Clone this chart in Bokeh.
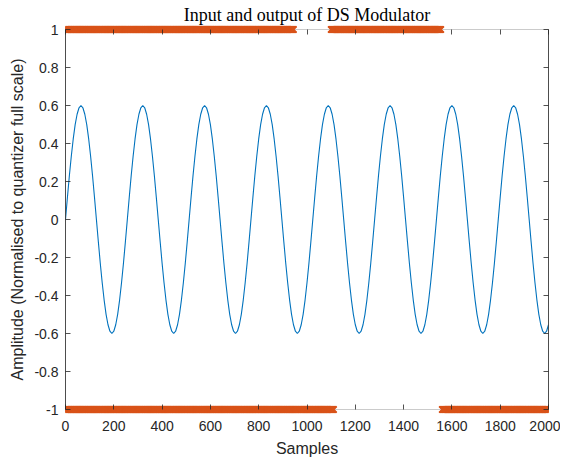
import numpy as np
from bokeh.plotting import figure
from bokeh.models import Range1d, LinearAxis, FixedTicker, BoxAnnotation
from bokeh.embed import file_html
from bokeh.resources import INLINE

in_x_step = 8
in_vals = [
    0, 0.117, 0.230, 0.333, 0.424, 0.499, 0.554, 0.588, 0.6, 0.588, 0.554, 0.499, 0.424, 0.333, 0.230, 0.117,
    0, -0.117, -0.230, -0.333, -0.424, -0.499, -0.554, -0.588, -0.6, -0.588, -0.554, -0.499, -0.424, -0.333, -0.230, -0.117,
    0, 0.117, 0.230, 0.333, 0.424, 0.499, 0.554, 0.588, 0.6, 0.588, 0.554, 0.499, 0.424, 0.333, 0.230, 0.117,
    0, -0.117, -0.230, -0.333, -0.424, -0.499, -0.554, -0.588, -0.6, -0.588, -0.554, -0.499, -0.424, -0.333, -0.230, -0.117,
    0, 0.117, 0.230, 0.333, 0.424, 0.499, 0.554, 0.588, 0.6, 0.588, 0.554, 0.499, 0.424, 0.333, 0.230, 0.117,
    0, -0.117, -0.230, -0.333, -0.424, -0.499, -0.554, -0.588, -0.6, -0.588, -0.554, -0.499, -0.424, -0.333, -0.230, -0.117,
    0, 0.117, 0.230, 0.333, 0.424, 0.499, 0.554, 0.588, 0.6, 0.588, 0.554, 0.499, 0.424, 0.333, 0.230, 0.117,
    0, -0.117, -0.230, -0.333, -0.424, -0.499, -0.554, -0.588, -0.6, -0.588, -0.554, -0.499, -0.424, -0.333, -0.230, -0.117,
    0, 0.117, 0.230, 0.333, 0.424, 0.499, 0.554, 0.588, 0.6, 0.588, 0.554, 0.499, 0.424, 0.333, 0.230, 0.117,
    0, -0.117, -0.230, -0.333, -0.424, -0.499, -0.554, -0.588, -0.6, -0.588, -0.554, -0.499, -0.424, -0.333, -0.230, -0.117,
    0, 0.117, 0.230, 0.333, 0.424, 0.499, 0.554, 0.588, 0.6, 0.588, 0.554, 0.499, 0.424, 0.333, 0.230, 0.117,
    0, -0.117, -0.230, -0.333, -0.424, -0.499, -0.554, -0.588, -0.6, -0.588, -0.554, -0.499, -0.424, -0.333, -0.230, -0.117,
    0, 0.117, 0.230, 0.333, 0.424, 0.499, 0.554, 0.588, 0.6, 0.588, 0.554, 0.499, 0.424, 0.333, 0.230, 0.117,
    0, -0.117, -0.230, -0.333, -0.424, -0.499, -0.554, -0.588, -0.6, -0.588, -0.554, -0.499, -0.424, -0.333, -0.230, -0.117,
    0, 0.117, 0.230, 0.333, 0.424, 0.499, 0.554, 0.588, 0.6, 0.588, 0.554, 0.499, 0.424, 0.333, 0.230, 0.117,
    0, -0.117, -0.230, -0.333, -0.424, -0.499, -0.554, -0.588, -0.6, -0.588, -0.554,
]
in_x = [i * in_x_step for i in range(len(in_vals))]

# Modulator output: runs of samples where +1 / -1 appear
out_hi_runs = [(0, 945), (1100, 1555)]
out_lo_runs = [(0, 1110), (1560, 2000)]
out_levels = [1, -1]

x_ticks = list(range(0, 2001, 200))
y_ticks = [-1, -0.8, -0.6, -0.4, -0.2, 0, 0.2, 0.4, 0.6, 0.8, 1]
y_tick_labels = ["-1", "-0.8", "-0.6", "-0.4", "-0.2", "0", "0.2", "0.4", "0.6", "0.8", "1"]

TXT = "#262626"
FONT = "Liberation Sans"

FRAME_W, BOX_H, PAD = 483, 380, 5
y_pad = 2 * PAD / BOX_H  # data units of the marker padding beyond +-1

p = figure(width=560, height=452, output_backend="svg", toolbar_location=None,
           x_range=Range1d(0, 2000), y_range=Range1d(-1 - y_pad, 1 + y_pad),
           min_border_left=65, min_border_right=12, min_border_top=24, min_border_bottom=38)
p.frame_width = FRAME_W
p.frame_height = BOX_H + 2 * PAD
p.background_fill_color = "white"
p.border_fill_color = "white"
p.outline_line_color = None
p.grid.visible = False

p.title.text = "Input and output of DS Modulator"
p.title.text_font = "Liberation Serif"
p.title.text_font_size = "18px"
p.title.text_font_style = "normal"
p.title.text_color = "black"
p.title.align = "center"
p.title.standoff = 0
p.title.offset = 0

box = BoxAnnotation(left=0, right=2000, bottom=-1, top=1, fill_color=None,
                    line_color=TXT, line_width=0.8, level="underlay")
p.add_layout(box)

xa, ya = p.xaxis[0], p.yaxis[0]
for ax in (xa, ya):
    ax.major_label_text_font = FONT
    ax.major_label_text_font_size = "14px"
    ax.major_label_text_color = TXT
    ax.axis_label_text_font = FONT
    ax.axis_label_text_font_size = "16px"
    ax.axis_label_text_font_style = "normal"
    ax.axis_label_text_color = TXT
    ax.major_tick_line_color = TXT
    ax.major_tick_line_width = 0.8
    ax.minor_tick_line_color = None

xa.ticker = FixedTicker(ticks=x_ticks)
xa.axis_line_color = None
xa.major_tick_in = PAD + 5
xa.major_tick_out = -PAD
xa.major_label_standoff = 6
xa.axis_label = "Samples"
xa.axis_label_standoff = 6

ya.ticker = FixedTicker(ticks=y_ticks)
ya.major_label_overrides = dict(zip(y_ticks, y_tick_labels))
ya.bounds = (-1, 1)
ya.axis_line_color = TXT
ya.axis_line_width = 0.8
ya.major_tick_in = 5
ya.major_tick_out = 0
ya.major_label_standoff = 7
ya.axis_label = "Amplitude (Normalised to quantizer full scale)"
ya.axis_label_standoff = 5

top_ax = LinearAxis(ticker=FixedTicker(ticks=x_ticks),
                    major_label_overrides={t: "" for t in x_ticks},
                    major_label_standoff=0, axis_line_color=None,
                    major_tick_line_color=TXT, major_tick_line_width=0.8,
                    major_tick_in=PAD + 5, major_tick_out=-PAD, minor_tick_line_color=None)
p.add_layout(top_ax, "above")

right_ax = LinearAxis(ticker=FixedTicker(ticks=y_ticks), bounds=(-1, 1),
                      major_label_overrides={t: "" for t in y_ticks},
                      major_label_standoff=0, axis_line_color=TXT, axis_line_width=0.8,
                      major_tick_line_color=TXT, major_tick_line_width=0.8,
                      major_tick_in=5, major_tick_out=0, minor_tick_line_color=None)
p.add_layout(right_ax, "right")

p.line(in_x, in_vals, line_color="#0072BD", line_width=1.1)

for runs, lvl in zip((out_hi_runs, out_lo_runs), out_levels):
    for a, b in runs:
        xs = np.arange(a, b + 1, 2)
        p.scatter(xs, np.full(len(xs), lvl), marker="x", size=9,
                  line_color="#D95319", line_width=1.6)

open("out.html", "w").write(file_html(p, INLINE))
